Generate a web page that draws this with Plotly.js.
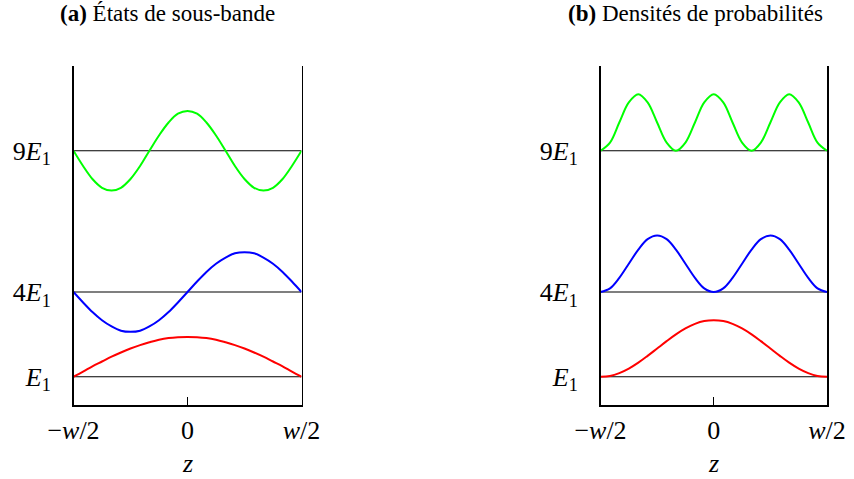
<!DOCTYPE html>
<html>
<head>
<meta charset="utf-8">
<script src="https://cdn.plot.ly/plotly-3.0.1.min.js"></script>
<style>html,body{margin:0;padding:0;background:#fff;}#chart{width:854px;height:479px;}</style>
</head>
<body>
<div id="chart"></div>
<script>
// positions across the well, z from -w/2 to w/2 (w = 1)
const z = [-0.5, -0.458, -0.417, -0.375, -0.333, -0.292, -0.25, -0.208, -0.167, -0.125, -0.083, -0.042, 0,
           0.042, 0.083, 0.125, 0.167, 0.208, 0.25, 0.292, 0.333, 0.375, 0.417, 0.458, 0.5];
const zEdges = [-0.5, 0.5];
// energy levels (units of E1)
const levels = [1, 4, 9];
const levelLabels = ['<i>E</i><sub>1</sub>', '4<i>E</i><sub>1</sub>', '9<i>E</i><sub>1</sub>'];
const zTickVals = [-0.5, 0, 0.5];
const zTickText = ['−<i>w</i>/2', '0', '<i>w</i>/2'];

// (a) subband states: wavefunctions drawn on their energy level
const psi1 = [1.00, 1.18, 1.37, 1.54, 1.71, 1.86, 2.00, 2.12, 2.22, 2.31, 2.37, 2.40, 2.41,
              2.40, 2.37, 2.31, 2.22, 2.12, 2.00, 1.86, 1.71, 1.54, 1.37, 1.18, 1.00];
const psi2 = [4.00, 3.63, 3.29, 3.00, 2.78, 2.63, 2.59, 2.63, 2.78, 3.00, 3.29, 3.63, 4.00,
              4.37, 4.71, 5.00, 5.22, 5.37, 5.41, 5.37, 5.22, 5.00, 4.71, 4.37, 4.00];
const psi3 = [9.00, 8.46, 8.00, 7.69, 7.59, 7.69, 8.00, 8.46, 9.00, 9.54, 10.00, 10.31, 10.41,
              10.31, 10.00, 9.54, 9.00, 8.46, 8.00, 7.69, 7.59, 7.69, 8.00, 8.46, 9.00];

// (b) probability densities drawn on their energy level
const rho1 = [1.00, 1.03, 1.13, 1.29, 1.50, 1.74, 2.00, 2.26, 2.50, 2.71, 2.87, 2.97, 3.00,
              2.97, 2.87, 2.71, 2.50, 2.26, 2.00, 1.74, 1.50, 1.29, 1.13, 1.03, 1.00];
const rho2 = [4.00, 4.13, 4.50, 5.00, 5.50, 5.87, 6.00, 5.87, 5.50, 5.00, 4.50, 4.13, 4.00,
              4.13, 4.50, 5.00, 5.50, 5.87, 6.00, 5.87, 5.50, 5.00, 4.50, 4.13, 4.00];
const rho3 = [9.00, 9.29, 10.00, 10.71, 11.00, 10.71, 10.00, 9.29, 9.00, 9.29, 10.00, 10.71, 11.00,
              10.71, 10.00, 9.29, 9.00, 9.29, 10.00, 10.71, 11.00, 10.71, 10.00, 9.29, 9.00];

const colors = ['#ff0000', '#0000ff', '#00ff00'];
const titles = ['<b>(a)</b> États de sous-bande', '<b>(b)</b> Densités de probabilités'];

const traces = [];
const panels = [[psi1, psi2, psi3], [rho1, rho2, rho3]];
panels.forEach((series, p) => {
  const xa = p === 0 ? 'x' : 'x2';
  const ya = p === 0 ? 'y' : 'y2';
  levels.forEach(lv => {
    traces.push({x: zEdges, y: [lv, lv], xaxis: xa, yaxis: ya, mode: 'lines',
      line: {color: '#000', width: 1.2}, hoverinfo: 'skip', showlegend: false});
  });
  series.forEach((s, i) => {
    traces.push({x: z, y: s, xaxis: xa, yaxis: ya, mode: 'lines',
      line: {color: colors[i], width: 2, shape: 'spline', smoothing: 1}, showlegend: false});
  });
});

const W = 854, H = 479;
const font = {family: 'Liberation Serif, Times New Roman, serif', size: 26, color: '#000'};
function xaxis(dom, anchor) {
  return {domain: dom, anchor: anchor, range: [-0.5, 0.5], tickvals: zTickVals, ticktext: zTickText,
    ticks: 'inside', ticklen: 8, tickwidth: 1, tickcolor: '#000', showline: true, linewidth: 1.5,
    linecolor: '#000', mirror: false, showgrid: false, zeroline: false, tickfont: font,
    ticklabelstandoff: 1, fixedrange: true};
}
function yaxis(anchor) {
  return {domain: [1 - 405 / H, 1 - 66 / H], anchor: anchor, range: [0, 12], tickvals: levels,
    ticktext: levelLabels, ticks: '', showline: true, linewidth: 1.5, linecolor: '#000',
    mirror: true, showgrid: false, zeroline: false, tickfont: font, ticklabelstandoff: 16,
    fixedrange: true};
}

const titleFont = {family: 'Liberation Serif, serif', size: 23, color: '#000'};
const layout = {
  width: W, height: H, margin: {l: 0, r: 0, t: 0, b: 0},
  paper_bgcolor: '#fff', plot_bgcolor: '#fff', showlegend: false, font: font,
  xaxis: xaxis([73.5 / W, 301.5 / W], 'y'),
  yaxis: yaxis('x'),
  xaxis2: xaxis([600.5 / W, 827 / W], 'y2'),
  yaxis2: yaxis('x2'),
  annotations: [
    {text: titles[0], xref: 'paper', yref: 'paper', x: 167 / W, y: 1 - 14 / H, xanchor: 'center', yanchor: 'middle',
     showarrow: false, font: titleFont},
    {text: titles[1], xref: 'paper', yref: 'paper', x: 695 / W, y: 1 - 14 / H, xanchor: 'center', yanchor: 'middle',
     showarrow: false, font: titleFont},
    {text: '<i>z</i>', xref: 'paper', yref: 'paper', x: 187.5 / W, y: 1 - 463 / H, xanchor: 'center', yanchor: 'middle',
     showarrow: false, font: font},
    {text: '<i>z</i>', xref: 'paper', yref: 'paper', x: 713.75 / W, y: 1 - 463 / H, xanchor: 'center', yanchor: 'middle',
     showarrow: false, font: font}
  ]
};

Plotly.newPlot('chart', traces, layout, {staticPlot: true, displayModeBar: false});
</script>
</body>
</html>
